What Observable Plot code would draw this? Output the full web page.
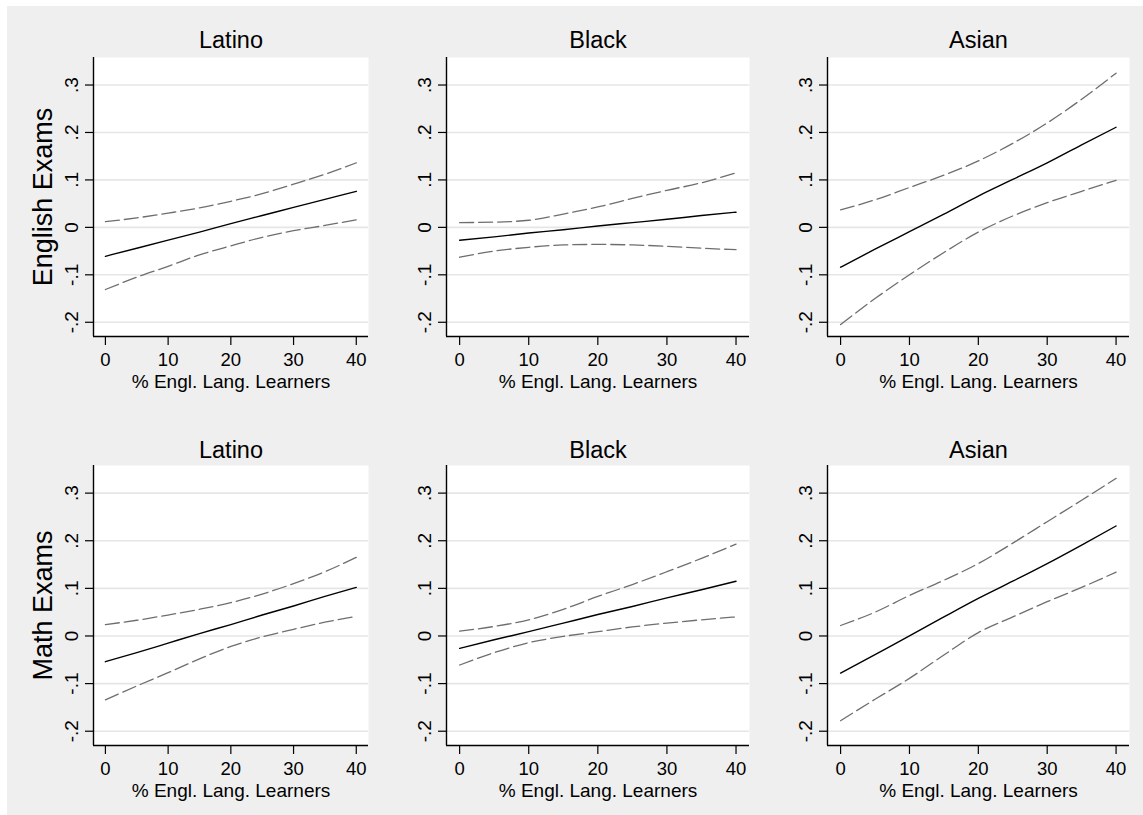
<!DOCTYPE html>
<html>
<head>
<meta charset="utf-8">
<script src="https://cdn.jsdelivr.net/npm/d3@7"></script>
<script src="https://cdn.jsdelivr.net/npm/@observablehq/plot@0.6"></script>
<style>
  html, body { margin: 0; padding: 0; background: #ffffff; }
  #page { position: relative; width: 1143px; height: 815px; overflow: hidden; background: #ffffff; }
  #bg { position: absolute; left: 7px; top: 6px; width: 1136px; height: 809px; background: #efefef; }
  .cell { position: absolute; }
  .cell svg { background: transparent !important; overflow: visible; }
</style>
</head>
<body>
<div id="page"><div id="bg"></div></div>
<script>
// ---- Data ----
const rowLabels = ["English Exams", "Math Exams"];
const groups = ["Latino", "Black", "Asian"];
const xTitle = "% Engl. Lang. Learners";
const xTicks = [0, 10, 20, 30, 40];
const yTicks = [-0.2, -0.1, 0, 0.1, 0.2, 0.3];
const yTickLabels = ["-.2", "-.1", "0", ".1", ".2", ".3"];

const ell = [0, 5, 10, 15, 20, 25, 30, 35, 40];

const latinoEngEst = [-0.061, -0.044, -0.027, -0.010, 0.008, 0.025, 0.042, 0.059, 0.076];
const latinoEngHi  = [0.012, 0.020, 0.030, 0.041, 0.055, 0.071, 0.091, 0.112, 0.136];
const latinoEngLo  = [-0.131, -0.105, -0.082, -0.058, -0.039, -0.021, -0.007, 0.004, 0.016];

const blackEngEst = [-0.027, -0.020, -0.012, -0.005, 0.003, 0.010, 0.017, 0.025, 0.032];
const blackEngHi  = [0.010, 0.011, 0.015, 0.028, 0.043, 0.061, 0.078, 0.094, 0.115];
const blackEngLo  = [-0.063, -0.050, -0.042, -0.037, -0.036, -0.037, -0.040, -0.044, -0.047];

const asianEngEst = [-0.084, -0.046, -0.009, 0.028, 0.066, 0.101, 0.136, 0.174, 0.211];
const asianEngHi  = [0.037, 0.058, 0.084, 0.110, 0.140, 0.177, 0.220, 0.270, 0.325];
const asianEngLo  = [-0.205, -0.150, -0.100, -0.053, -0.010, 0.024, 0.052, 0.076, 0.099];

const latinoMathEst = [-0.054, -0.035, -0.015, 0.005, 0.024, 0.044, 0.063, 0.083, 0.102];
const latinoMathHi  = [0.024, 0.033, 0.044, 0.056, 0.070, 0.088, 0.110, 0.135, 0.165];
const latinoMathLo  = [-0.134, -0.105, -0.077, -0.048, -0.022, -0.002, 0.014, 0.029, 0.041];

const blackMathEst = [-0.026, -0.008, 0.009, 0.027, 0.045, 0.062, 0.080, 0.097, 0.115];
const blackMathHi  = [0.010, 0.020, 0.034, 0.056, 0.083, 0.108, 0.135, 0.163, 0.193];
const blackMathLo  = [-0.061, -0.035, -0.014, -0.001, 0.009, 0.019, 0.027, 0.034, 0.040];

const asianMathEst = [-0.078, -0.039, 0.000, 0.040, 0.079, 0.115, 0.152, 0.191, 0.231];
const asianMathHi  = [0.022, 0.050, 0.085, 0.117, 0.152, 0.195, 0.240, 0.285, 0.331];
const asianMathLo  = [-0.178, -0.133, -0.089, -0.040, 0.007, 0.040, 0.072, 0.102, 0.134];

const panelSeries = [
  [[latinoEngEst, latinoEngHi, latinoEngLo], [blackEngEst, blackEngHi, blackEngLo], [asianEngEst, asianEngHi, asianEngLo]],
  [[latinoMathEst, latinoMathHi, latinoMathLo], [blackMathEst, blackMathHi, blackMathLo], [asianMathEst, asianMathHi, asianMathLo]]
];

// ---- Layout ----
const FONT = "'Liberation Sans', Arial, sans-serif";
const cols = [
  {left: 7, width: 373, ml: 86, mr: 12},
  {left: 380, width: 380, ml: 66, mr: 11},
  {left: 760, width: 383, ml: 67, mr: 14}
];
const rows = [
  {top: 6, height: 404, mt: 51, mb: 74, titleDy: -17},
  {top: 410, height: 405, mt: 55, mb: 70, titleDy: -15}
];
const xDomain = [-1.9, 41.95];
const yDomain = [-0.23, 0.358];

const page = document.getElementById("page");

rows.forEach((row, ri) => {
  cols.forEach((col, ci) => {
    const [est, hi, lo] = panelSeries[ri][ci];
    const table = ell.map((x, i) => ({x, est: est[i], hi: hi[i], lo: lo[i]}));
    const marks = [
      Plot.frame({fill: "white", stroke: "none"}),
      Plot.gridY(yTicks, {stroke: "#e6e6e6", strokeOpacity: 1, strokeWidth: 1.6}),
      Plot.axisY(yTicks, {tickSize: 8, tickFormat: () => "", label: null, stroke: "#000", strokeWidth: 1.2}),
      Plot.text(yTicks, {y: d => d, text: (d, i) => yTickLabels[i], frameAnchor: "left", dx: -22, rotate: -90,
                          textAnchor: "middle", lineAnchor: "middle", fontSize: 19, fill: "#000"}),
      Plot.axisX(xTicks, {tickSize: 9, tickPadding: 7, fontSize: 18.5, label: null, stroke: "#000", strokeWidth: 1.2, fill: "#000"}),
      Plot.ruleX([xDomain[0]], {stroke: "#000", strokeWidth: 1.4}),
      Plot.ruleY([yDomain[0]], {stroke: "#000", strokeWidth: 1.4}),
      Plot.line(table, {x: "x", y: "hi", stroke: "#6e6e6e", strokeWidth: 1.3, strokeDasharray: "14,5", curve: "monotone-x"}),
      Plot.line(table, {x: "x", y: "lo", stroke: "#6e6e6e", strokeWidth: 1.3, strokeDasharray: "14,5", curve: "monotone-x"}),
      Plot.line(table, {x: "x", y: "est", stroke: "#000", strokeWidth: 1.4, curve: "monotone-x"}),
      Plot.text([groups[ci]], {text: d => d, frameAnchor: "top", dy: row.titleDy, fontSize: 23.5, fill: "#000", lineAnchor: "middle"}),
      Plot.text([xTitle], {text: d => d, frameAnchor: "bottom", dy: 45, fontSize: 19, fill: "#000", lineAnchor: "middle"})
    ];
    if (ci === 0) {
      marks.push(Plot.text([rowLabels[ri]], {text: d => d, frameAnchor: "left", dx: -50, rotate: -90,
                                            fontSize: 27, fill: "#000", lineAnchor: "middle", textAnchor: "middle"}));
    }
    const svg = Plot.plot({
      width: col.width,
      height: row.height,
      marginLeft: col.ml,
      marginRight: col.mr,
      marginTop: row.mt,
      marginBottom: row.mb,
      x: {domain: xDomain},
      y: {domain: yDomain},
      style: {fontFamily: FONT, background: "transparent", overflow: "visible", color: "#000"},
      marks
    });
    const div = document.createElement("div");
    div.className = "cell";
    div.style.left = col.left + "px";
    div.style.top = row.top + "px";
    div.style.width = col.width + "px";
    div.style.height = row.height + "px";
    div.appendChild(svg);
    page.appendChild(div);
  });
});
</script>
</body>
</html>
